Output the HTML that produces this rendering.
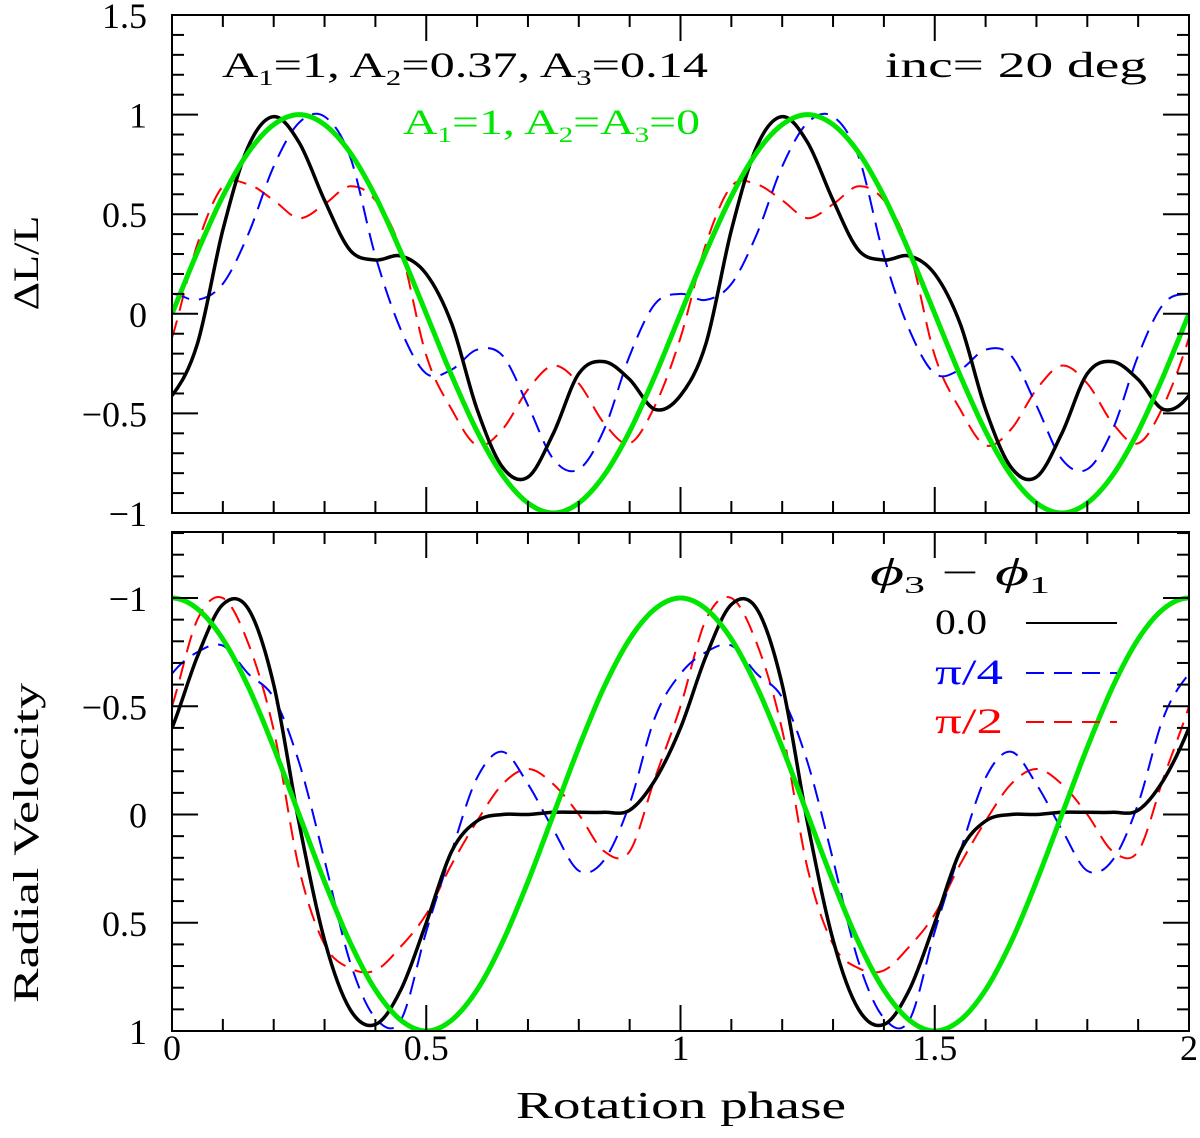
<!DOCTYPE html>
<html><head><meta charset="utf-8"><style>
html,body{margin:0;padding:0;background:#fff;}
svg{display:block;}
text{font-family:"Liberation Serif","DejaVu Serif",serif;}
</style></head><body>
<svg id="chart" width="1200" height="1138" viewBox="0 0 1200 1138" xmlns="http://www.w3.org/2000/svg">
<g id="top-panel"></g>
<g id="bottom-panel"></g>
<g id="labels">
<text transform="translate(38,263) rotate(-90)" text-anchor="middle" font-size="36" textLength="95" lengthAdjust="spacingAndGlyphs">ΔL/L</text>
<text transform="translate(38,843) rotate(-90)" text-anchor="middle" font-size="36" textLength="320" lengthAdjust="spacingAndGlyphs">Radial Velocity</text>
<text x="681" y="1118" text-anchor="middle" font-size="38" textLength="330" lengthAdjust="spacingAndGlyphs">Rotation phase</text>
<text x="222" y="77" font-size="36" textLength="486" lengthAdjust="spacingAndGlyphs">A<tspan font-size="22" dy="8">1</tspan><tspan dy="-8">=1,  A</tspan><tspan font-size="22" dy="8">2</tspan><tspan dy="-8">=0.37,  A</tspan><tspan font-size="22" dy="8">3</tspan><tspan dy="-8">=0.14</tspan></text>
<text x="885" y="77" font-size="36" textLength="262" lengthAdjust="spacingAndGlyphs">inc= 20 deg</text>
<text x="403" y="134" font-size="36" fill="#00e600" textLength="297" lengthAdjust="spacingAndGlyphs">A<tspan font-size="22" dy="8">1</tspan><tspan dy="-8">=1,  A</tspan><tspan font-size="22" dy="8">2</tspan><tspan dy="-8">=A</tspan><tspan font-size="22" dy="8">3</tspan><tspan dy="-8">=0</tspan></text>
<text x="870" y="585" font-size="38" font-style="italic" textLength="180" lengthAdjust="spacingAndGlyphs">ϕ<tspan font-size="24" font-style="normal" dy="8">3</tspan><tspan font-style="normal" dy="-8"> − </tspan>ϕ<tspan font-size="24" font-style="normal" dy="8">1</tspan></text>
<text x="935" y="634" font-size="36" textLength="52" lengthAdjust="spacingAndGlyphs">0.0</text>
<line x1="1026" y1="623" x2="1117" y2="623" stroke="#000" stroke-width="2"/>
<text x="935" y="684" font-size="36" fill="#0000ff" textLength="68" lengthAdjust="spacingAndGlyphs">π/4</text>
<line x1="1026" y1="673" x2="1117" y2="673" stroke="#0000ff" stroke-width="2" stroke-dasharray="18,10"/>
<text x="935" y="733" font-size="36" fill="#ff0000" textLength="68" lengthAdjust="spacingAndGlyphs">π/2</text>
<line x1="1026" y1="722" x2="1117" y2="722" stroke="#ff0000" stroke-width="2" stroke-dasharray="18,10"/>
</g>
</svg>
<script>
// phase samples for one period (0 .. 0.95, step 0.05); curves repeat for phase 1..2
const phases = [0,0.05,0.1,0.15,0.2,0.25,0.3,0.35,0.4,0.45,0.5,0.55,0.6,0.65,0.7,0.75,0.8,0.85,0.9,0.95];
const topBlack = [-0.41,-0.15,0.42,0.84,0.99,0.86,0.57,0.32,0.27,0.29,0.2,-0.05,-0.48,-0.77,-0.82,-0.6,-0.3,-0.24,-0.33,-0.48];
const topBlue  = [0.1,0.07,0.15,0.4,0.74,0.96,0.99,0.79,0.29,-0.08,-0.3,-0.28,-0.18,-0.21,-0.46,-0.73,-0.78,-0.58,-0.21,0.05];
const topRed   = [-0.12,0.35,0.64,0.65,0.57,0.48,0.55,0.64,0.57,0.32,-0.21,-0.48,-0.66,-0.58,-0.38,-0.26,-0.35,-0.55,-0.65,-0.46];
const topGreen = [0,0.31,0.59,0.81,0.95,1,0.95,0.81,0.59,0.31,0,-0.31,-0.59,-0.81,-0.95,-1,-0.95,-0.81,-0.59,-0.31];
const rvBlack  = [-0.4,-0.73,-0.97,-0.95,-0.6,0.04,0.58,0.9,0.97,0.81,0.5,0.17,0.03,0,0,-0.01,-0.01,-0.01,-0.02,-0.16];
const rvBlue   = [-0.65,-0.75,-0.78,-0.65,-0.54,-0.24,0.21,0.68,0.94,0.95,0.54,0.17,-0.17,-0.29,-0.14,0.07,0.26,0.21,-0.05,-0.45];
const rvRed    = [-0.5,-0.9,-1.0,-0.79,-0.39,0.25,0.6,0.71,0.72,0.61,0.46,0.23,0.03,-0.14,-0.21,-0.14,0,0.17,0.17,-0.17];
const rvGreen  = [-1,-0.95,-0.81,-0.59,-0.31,0,0.31,0.59,0.81,0.95,1,0.95,0.81,0.59,0.31,0,-0.31,-0.59,-0.81,-0.95];
const xTickLabels = ["0","0.5","1","1.5","2"];
const topYTickLabels = ["−1","−0.5","0","0.5","1","1.5"];
const rvYTickLabels = ["−1","−0.5","0","0.5","1"];

const NS="http://www.w3.org/2000/svg";
const X0=172, X1=1189;
const xs = p => X0 + (X1-X0)*p/2;
const topPanel={top:15,bottom:513,vmin:-1,vmax:1.5};
const botPanel={top:532,bottom:1031,vmin:-1.3,vmax:1};
const yTop = v => topPanel.bottom - (v-topPanel.vmin)/(topPanel.vmax-topPanel.vmin)*(topPanel.bottom-topPanel.top);
const yBot = v => 598 + (v+1)*(1031-598)/2;

function mk(tag,attrs,parent){const e=document.createElementNS(NS,tag);for(const k in attrs)e.setAttribute(k,attrs[k]);parent.appendChild(e);return e;}

function buildPoints(vals){
  const pts=[];
  for(let c=0;c<2;c++) for(let i=0;i<phases.length;i++) pts.push([phases[i]+c, vals[i]]);
  pts.push([2, vals[0]]);
  return pts;
}
function pathFor(vals,ys){
  const pts=buildPoints(vals).map(p=>[xs(p[0]),ys(p[1])]);
  const pre=[xs(-0.05),ys(vals[vals.length-1])], post=[xs(2.05),ys(vals[1])];
  const P=[pre,...pts,post];
  let d="M"+pts[0][0].toFixed(1)+","+pts[0][1].toFixed(1);
  for(let i=1;i<P.length-2;i++){
    const p0=P[i-1],p1=P[i],p2=P[i+1],p3=P[i+2];
    const c1=[p1[0]+(p2[0]-p0[0])/6,p1[1]+(p2[1]-p0[1])/6];
    const c2=[p2[0]-(p3[0]-p1[0])/6,p2[1]-(p3[1]-p1[1])/6];
    d+=`C${c1[0].toFixed(1)},${c1[1].toFixed(1)} ${c2[0].toFixed(1)},${c2[1].toFixed(1)} ${p2[0].toFixed(1)},${p2[1].toFixed(1)}`;
  }
  return d;
}

function drawPanel(g, panel, ys, series, yTickVals, yLabels, minorStart, minorEnd, showXLabels, prefix){
  const clipId=prefix+"-clip";
  const defs=mk("defs",{},g);
  const cp=mk("clipPath",{id:clipId},defs);
  mk("rect",{x:X0,y:panel.top,width:X1-X0,height:panel.bottom-panel.top},cp);
  const cg=mk("g",{"clip-path":`url(#${clipId})`},g);
  
  
  series.forEach(s=>{
    const p=mk("path",{d:pathFor(s.vals,ys),fill:"none",stroke:s.color,"stroke-width":s.w,"stroke-dasharray":s.dash||"none","stroke-linejoin":"round"},cg);
    
    
  });
  const fr=mk("rect",{x:X0,y:panel.top,width:X1-X0,height:panel.bottom-panel.top,fill:"none",stroke:"#000","stroke-width":2},g);
  
  
  const tg=mk("g",{stroke:"#000","stroke-width":2},g);
  
  
  for(let i=0;i<=20;i++){
    const x=xs(i/10), L=(i%5===0)?26:12;
    mk("line",{x1:x,y1:panel.bottom,x2:x,y2:panel.bottom-L},tg);
    mk("line",{x1:x,y1:panel.top,x2:x,y2:panel.top+L},tg);
  }
  for(let k=minorStart;k<=minorEnd;k++){
    const v=k/10, y=ys(v), L=(k%5===0)?26:12;
    mk("line",{x1:X0,y1:y,x2:X0+L,y2:y},tg);
    mk("line",{x1:X1,y1:y,x2:X1-L,y2:y},tg);
  }
  yTickVals.forEach((v,i)=>{
    const t=mk("text",{x:147,y:ys(v)+13,"text-anchor":"end","font-size":36},g);
    t.textContent=yLabels[i];
    
    
  });
  if(showXLabels){
    xTickLabels.forEach((lab,i)=>{
      const t=mk("text",{x:xs(i*0.5),y:1060,"text-anchor":"middle","font-size":36},g);
      t.textContent=lab;
      
      
    });
  }
}
const tg=document.getElementById("top-panel"), bg=document.getElementById("bottom-panel");
drawPanel(tg, topPanel, yTop, [
  {name:"pi2",vals:topRed,color:"#ff0000",w:2,dash:"18,10"},
  {name:"pi4",vals:topBlue,color:"#0000ff",w:2,dash:"18,10"},
  {name:"zero",vals:topBlack,color:"#000",w:3.5},
  {name:"green",vals:topGreen,color:"#00e600",w:5}
],[-1,-0.5,0,0.5,1,1.5],topYTickLabels,-10,15,false,"top");
drawPanel(bg, botPanel, yBot, [
  {name:"pi2",vals:rvRed,color:"#ff0000",w:2,dash:"18,10"},
  {name:"pi4",vals:rvBlue,color:"#0000ff",w:2,dash:"18,10"},
  {name:"zero",vals:rvBlack,color:"#000",w:3.5},
  {name:"green",vals:rvGreen,color:"#00e600",w:5}
],[-1,-0.5,0,0.5,1],rvYTickLabels,-13,10,true,"bottom");
</script>
</body></html>
